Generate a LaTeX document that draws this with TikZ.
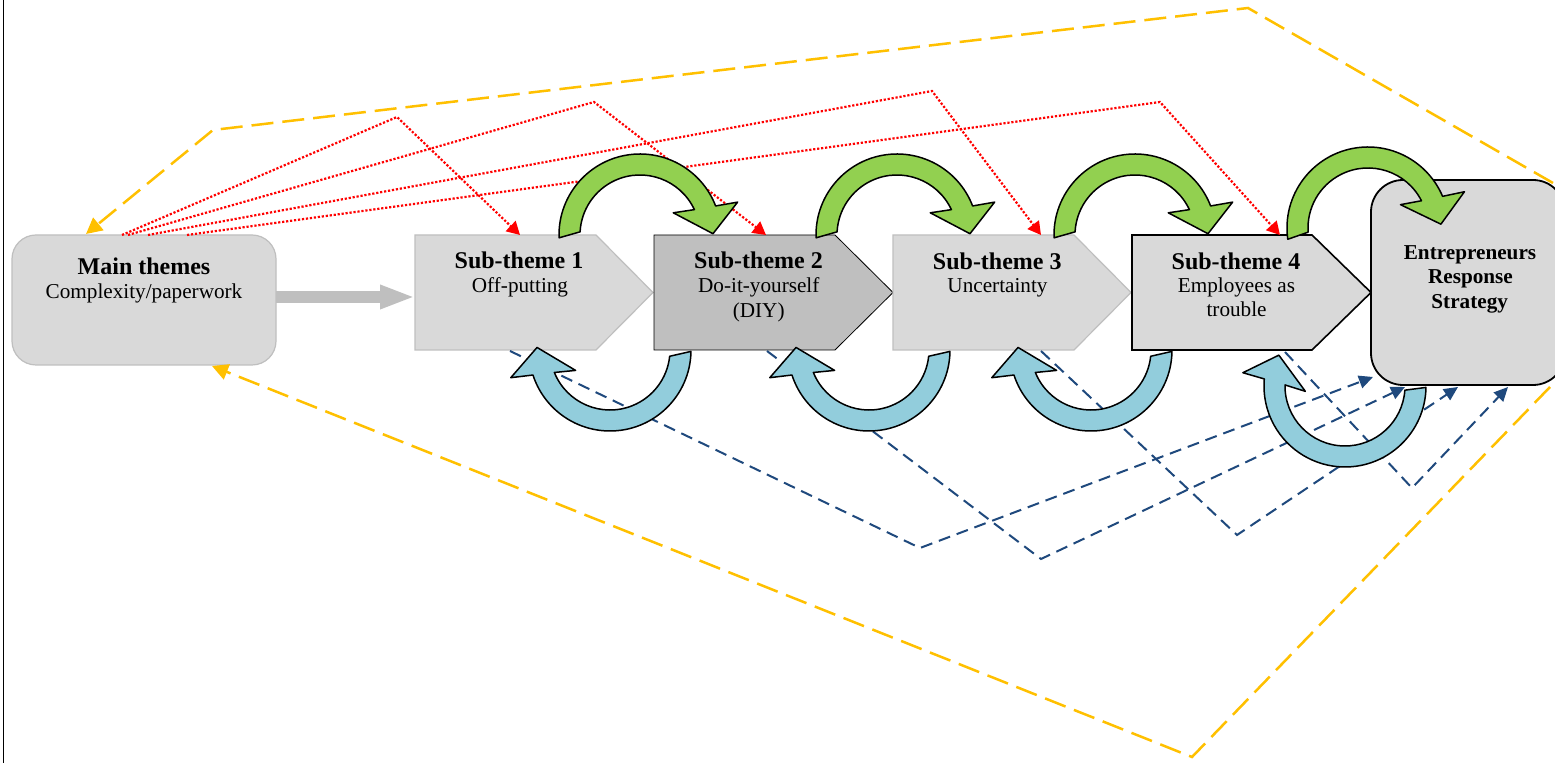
\documentclass[tikz,border=0pt]{standalone}
\usepackage{fontspec}
\setmainfont{Liberation Serif}
\usetikzlibrary{arrows.meta}
\definecolor{lgray}{HTML}{D9D9D9}
\definecolor{mgray}{HTML}{BFBFBF}
\definecolor{gold}{HTML}{FFC000}
\definecolor{navy}{HTML}{1F497D}
\definecolor{lgreen}{HTML}{92D050}
\definecolor{lblue}{HTML}{92CDDC}
% #1 centre, #2 rotation, #3 outer foot angle, #4 inner foot angle, #5 style
\newcommand{\circarrowshape}[5]{%
  \begin{scope}[shift={#1},yscale=-1,rotate=-#2]
    \draw[#5] (#3:81) arc[start angle=#3,end angle=21,radius=81]
      -- (18.6:103) -- (1:73) -- (33.7:40) -- (25:60)
      arc[start angle=25,end angle=#4,radius=60] -- cycle;
  \end{scope}}
\tikzset{
  boxtext/.style={inner sep=0pt, anchor=base, font=\fontsize{10.6}{12.5}\selectfont},
  boxtitle/.style={inner sep=0pt, anchor=base, font=\fontsize{12}{14}\selectfont\bfseries},
  erstext/.style={inner sep=0pt, anchor=base, font=\fontsize{10.6}{12.5}\selectfont\bfseries},
  reddot/.style={draw=red, line width=1.1pt, dash pattern=on 1.1pt off 0.9pt, -{Triangle[length=6.5pt,width=7pt]}},
  golddash/.style={draw=gold, line width=1.25pt, dash pattern=on 11pt off 4.5pt, -{Triangle[length=8pt,width=8pt]}},
  navydash/.style={draw=navy, line width=1pt, dash pattern=on 6pt off 3.5pt, -{Triangle[length=7pt,width=6.5pt]}},
  greenarc/.style={fill=lgreen, draw=black, line width=0.75pt, line join=round},
  bluearc/.style={fill=lblue, draw=black, line width=0.75pt, line join=round},
  lightchev/.style={draw=mgray, fill=lgray, line width=0.6pt},
  darkchev/.style={fill=mgray},
  blackchev/.style={draw=black, fill=lgray, line width=0.8pt},
  mainbox/.style={draw=mgray, fill=lgray, rounded corners=12pt, minimum width=132pt, minimum height=65pt, inner sep=0pt, line width=0.6pt},
  ersbox/.style={draw=black, fill=lgray, rounded corners=16pt, minimum width=97pt, minimum height=102.5pt, inner sep=0pt, line width=0.9pt},
  bigarrow/.style={draw=mgray, line width=6.3pt, -{Triangle[length=17.5pt,width=11pt]}}
}
\begin{document}
\begin{tikzpicture}[x=0.5pt,y=-0.5pt]
\useasboundingbox (0,0) rectangle (1555,763);
\fill[white] (0,0) rectangle (1555,763);
\draw[line width=0.75pt] (3.3,0) -- (3.3,763);

% boxes
\node[mainbox] (main) at (144,300) {};
\draw[lightchev] (415,235) -- (596,235) -- (653,292.5) -- (596,350) -- (415,350) -- cycle;
\draw[darkchev] (654,235) -- (835,235) -- (893,292.5) -- (835,350) -- (654,350) -- cycle;
\draw[lightchev] (893,235) -- (1074,235) -- (1131,292.5) -- (1074,350) -- (893,350) -- cycle;
\draw[blackchev] (1132,235) -- (1312,235) -- (1371,292.5) -- (1312,350) -- (1132,350) -- cycle;
\node[ersbox] (ers) at (1468,282.5) {};

% texts
\node[boxtitle] (mt1) at (144,275) {Main themes};
\node[boxtext] (mt2) at (144,299) {Complexity/paperwork};
\node[boxtitle] (s1a) at (519,269) {Sub-theme 1};
\node[boxtext] (s1b) at (520,293) {Off-putting};
\node[boxtitle] (s2a) at (758.5,269) {Sub-theme 2};
\node[boxtext] (s2b) at (758.8,293) {Do-it-yourself};
\node[boxtext] (s2c) at (758.7,318) {(DIY)};
\node[boxtitle] (s3a) at (997.3,270) {Sub-theme 3};
\node[boxtext] (s3b) at (997.5,293) {Uncertainty};
\node[boxtitle] (s4a) at (1236,270) {Sub-theme 4};
\node[boxtext] (s4b) at (1236.4,293) {Employees as};
\node[boxtext] (s4c) at (1236.6,317) {trouble};
\node[erstext] (e1) at (1470,260) {Entrepreneurs};
\node[erstext] (e2) at (1470.5,284) {Response};
\node[erstext] (e3) at (1469.7,309) {Strategy};

% connector points
\coordinate (mainE) at (276,297);
\coordinate (s1W) at (415,297);
\coordinate (mr1) at (122,235); \coordinate (rb1) at (397,117); \coordinate (s1T) at (520,235);
\coordinate (mr2) at (128,235); \coordinate (rb2) at (594,102); \coordinate (s2T) at (766,235);
\coordinate (mr3) at (148,235); \coordinate (rb3) at (932,91);  \coordinate (s3T) at (1041,235);
\coordinate (mr4) at (187,235); \coordinate (rb4) at (1160,102); \coordinate (s4T) at (1280,235);
\coordinate (ersTR) at (1553,183); \coordinate (ob1) at (1248,8); \coordinate (ob2) at (213,130); \coordinate (mainTL) at (86,234);
\coordinate (ersBR) at (1550,387); \coordinate (ob3) at (1192,757); \coordinate (mainB) at (212,366);
\coordinate (s1B) at (510,351); \coordinate (nb1) at (920,548); \coordinate (ersA) at (1373,377);
\coordinate (s2B) at (767,351); \coordinate (nb2) at (1041,559); \coordinate (ersB) at (1405,387);
\coordinate (s3B) at (1041,351); \coordinate (nb3) at (1237,535); \coordinate (ersC) at (1458,387);
\coordinate (s4B) at (1285,352); \coordinate (nb4) at (1412,488); \coordinate (ersD) at (1508,387);

% connectors
\draw[bigarrow] (mainE) -- (s1W);
\draw[reddot] (mr1) -- (rb1) -- (s1T);
\draw[reddot] (mr2) -- (rb2) -- (s2T);
\draw[reddot] (mr3) -- (rb3) -- (s3T);
\draw[reddot] (mr4) -- (rb4) -- (s4T);
\draw[golddash] (ersTR) -- (ob1) -- (ob2) -- (mainTL);
\draw[golddash] (ersBR) -- (ob3) -- (mainB);
\draw[navydash] (s1B) -- (nb1) -- (ersA);
\draw[navydash] (s2B) -- (nb2) -- (ersB);
\draw[navydash] (s3B) -- (nb3) -- (ersC);
\draw[navydash] (s4B) -- (nb4) -- (ersD);

% circular arrows
\circarrowshape{(640,235)}{0}{182}{177}{greenarc}
\circarrowshape{(897,235)}{0}{182}{177}{greenarc}
\circarrowshape{(1135,235)}{0}{182}{177}{greenarc}
\circarrowshape{(1368,228)}{2}{186}{182}{greenarc}
\circarrowshape{(610,350)}{177}{182}{177}{bluearc}
\circarrowshape{(869,350)}{177}{182}{177}{bluearc}
\circarrowshape{(1091,350)}{177}{182}{177}{bluearc}
\circarrowshape{(1345,386)}{154}{205}{202}{bluearc}
\end{tikzpicture}
\end{document}
